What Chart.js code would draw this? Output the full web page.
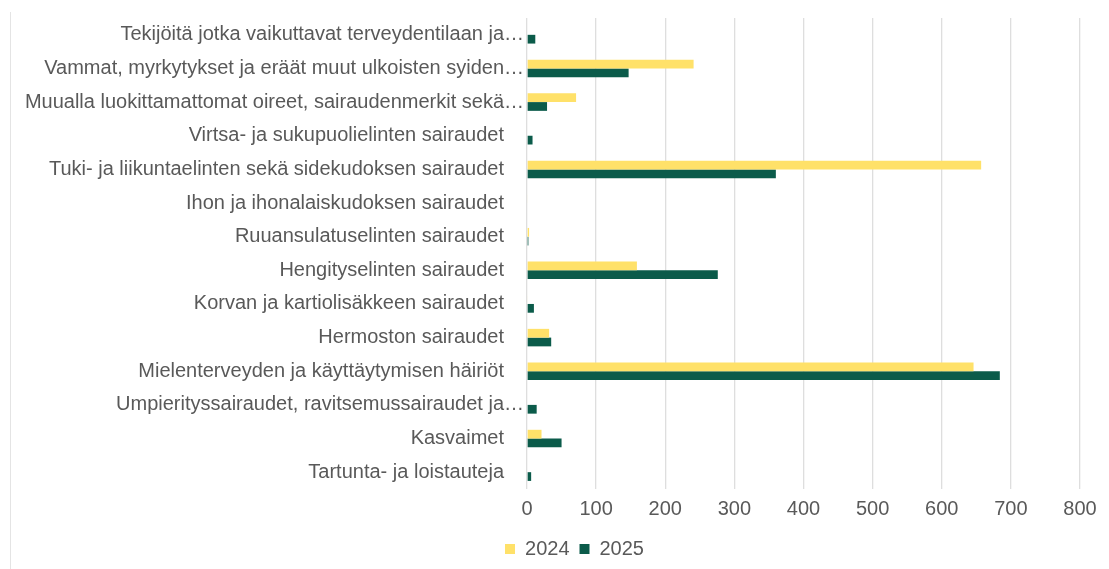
<!DOCTYPE html>
<html lang="fi">
<head>
<meta charset="utf-8">
<title>Sairauspoissaolot diagnoosiryhmittäin</title>
<script src="https://cdn.jsdelivr.net/npm/chart.js@4/dist/chart.umd.min.js"></script>
<style>
  html, body { margin: 0; padding: 0; background: #fff; }
  #wrap { position: relative; width: 1109px; height: 569px; }
  #frame { position: absolute; left: 10px; top: 12px; bottom: 0; border-left: 1px solid #e4e4e4; }
  canvas { position: absolute; left: 0; top: 0; }
</style>
</head>
<body>
<div id="wrap">
  <div id="frame"></div>
  <canvas id="chart" width="1109" height="569"></canvas>
</div>
<script>
// diagnosis groups, top to bottom
const categories = [
  'Tekijöitä jotka vaikuttavat terveydentilaan ja…',
  'Vammat, myrkytykset ja eräät muut ulkoisten syiden…',
  'Muualla luokittamattomat oireet, sairaudenmerkit sekä…',
  'Virtsa- ja sukupuolielinten sairaudet',
  'Tuki- ja liikuntaelinten sekä sidekudoksen sairaudet',
  'Ihon ja ihonalaiskudoksen sairaudet',
  'Ruuansulatuselinten sairaudet',
  'Hengityselinten sairaudet',
  'Korvan ja kartiolisäkkeen sairaudet',
  'Hermoston sairaudet',
  'Mielenterveyden ja käyttäytymisen häiriöt',
  'Umpierityssairaudet, ravitsemussairaudet ja…',
  'Kasvaimet',
  'Tartunta- ja loistauteja'
];

const years = ['2024', '2025'];
const values2024 = [0, 241, 71, 0, 657, 1, 3, 159, 1, 32, 646, 0, 21, 0];
const values2025 = [12, 147, 29, 8, 360, 0, 2, 276, 10, 35, 684, 14, 50, 6];

const xTicks = [0, 100, 200, 300, 400, 500, 600, 700, 800];

const YELLOW = '#FFE169';
const GREEN = '#0B5B4A';
const TEXT = '#595959';
const FONT = { family: '"Liberation Sans", Arial, sans-serif', size: 20 };

const PLOT_LEFT = 527;   // x of the value axis zero line
const PAD_LEFT = 69;     // keeps the legend centred where it should be

// long category names run past the padding, so widen the y scale's
// label clip back to the canvas edge once the layout is done
const spillLabels = {
  id: 'spillLabels',
  afterLayout(chart) {
    chart.scales.y.left = 0;
  }
};

new Chart(document.getElementById('chart'), {
  type: 'bar',
  data: {
    labels: categories,
    datasets: [
      { label: years[0], data: values2024, backgroundColor: YELLOW },
      { label: years[1], data: values2025, backgroundColor: GREEN }
    ]
  },
  options: {
    indexAxis: 'y',
    responsive: false,
    animation: false,
    datasets: {
      bar: { categoryPercentage: 0.52, barPercentage: 1.0 }
    },
    layout: { padding: { left: PAD_LEFT, right: 29, top: 18, bottom: 0 } },
    scales: {
      x: {
        min: xTicks[0],
        max: xTicks[xTicks.length - 1],
        afterBuildTicks: (scale) => { scale.ticks = xTicks.map(v => ({ value: v })); },
        grid: { color: '#dedede', lineWidth: 1.3, drawTicks: false },
        border: { display: false },
        ticks: { color: TEXT, font: FONT, padding: 8 }
      },
      y: {
        grid: { display: false },
        border: { display: false },
        afterFit: (scale) => { scale.width = PLOT_LEFT - PAD_LEFT; },
        ticks: {
          color: TEXT,
          font: FONT,
          padding: -5,
          autoSkip: false,
          // full labels sit a little further from the axis than cut ones
          callback: function (v) {
            const s = this.getLabelForValue(v);
            return s.endsWith('…') ? s : s + '\u2003';
          }
        }
      }
    },
    plugins: {
      legend: {
        position: 'bottom',
        align: 'center',
        labels: { color: TEXT, font: FONT, boxWidth: 10, boxHeight: 10, padding: 10 }
      },
      tooltip: { enabled: false }
    }
  },
  plugins: [spillLabels]
});
</script>
</body>
</html>
